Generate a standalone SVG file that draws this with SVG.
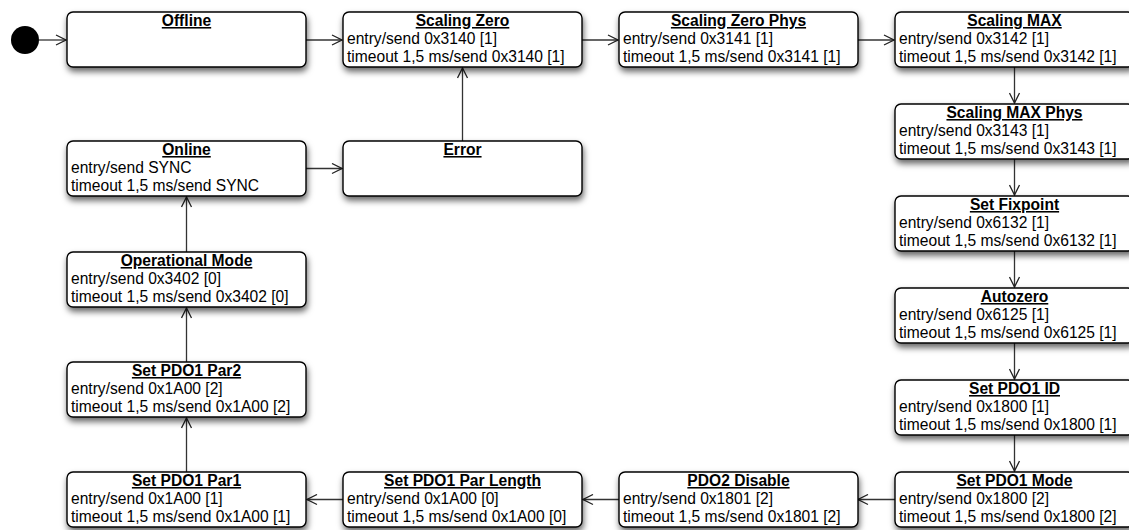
<svg xmlns="http://www.w3.org/2000/svg" width="1129" height="530" viewBox="0 0 1129 530">
<defs>
<filter id="sh" x="-10%" y="-20%" width="120%" height="170%">
<feDropShadow dx="1" dy="4" stdDeviation="3" flood-color="#000" flood-opacity="0.6"/>
</filter>
<marker id="ar" markerWidth="12" markerHeight="12" refX="11" refY="6" orient="auto" markerUnits="userSpaceOnUse">
<path d="M1,1 L11,6 L1,11" fill="none" stroke="#222" stroke-width="1.3"/>
</marker>
</defs>
<style>
.box{fill:#fff;stroke:#000;stroke-width:1.4;filter:url(#sh)}
.t{font-family:"Liberation Sans",Arial,Helvetica,sans-serif;font-size:15.6px;fill:#000}
.h{font-weight:bold;text-anchor:middle;text-decoration:underline}
.c{fill:none;stroke:#333;stroke-width:1.3;marker-end:url(#ar)}
</style>
<rect width="1129" height="530" fill="#fff"/>
<g id="connectors">
<line class="c" x1="39" y1="40" x2="66" y2="40"/>
<line class="c" x1="306" y1="40" x2="342" y2="40"/>
<line class="c" x1="582" y1="40" x2="618" y2="40"/>
<line class="c" x1="857" y1="40" x2="894" y2="40"/>
<line class="c" x1="1014.5" y1="67" x2="1014.5" y2="103"/>
<line class="c" x1="1014.5" y1="159" x2="1014.5" y2="195"/>
<line class="c" x1="1014.5" y1="251" x2="1014.5" y2="287"/>
<line class="c" x1="1014.5" y1="343" x2="1014.5" y2="379"/>
<line class="c" x1="1014.5" y1="435" x2="1014.5" y2="471"/>
<line class="c" x1="895" y1="499.5" x2="858" y2="499.5"/>
<line class="c" x1="619" y1="499.5" x2="583" y2="499.5"/>
<line class="c" x1="343" y1="499.5" x2="307" y2="499.5"/>
<line class="c" x1="186.5" y1="472" x2="186.5" y2="418"/>
<line class="c" x1="186.5" y1="362" x2="186.5" y2="308"/>
<line class="c" x1="186.5" y1="252" x2="186.5" y2="197"/>
<line class="c" x1="306" y1="168.5" x2="342" y2="168.5"/>
<line class="c" x1="462.5" y1="141" x2="462.5" y2="68"/>
</g>
<g id="initial"><circle cx="25" cy="40" r="14" fill="#000"/></g>
<g id="offline"><rect class="box" x="67" y="12" width="239" height="55" rx="6"/><text class="t h" x="186.5" y="26">Offline</text></g>
<g id="scaling-zero"><rect class="box" x="343" y="12" width="239" height="55" rx="6"/><text class="t h" x="462.5" y="26">Scaling Zero</text><text class="t" x="347" y="44">entry/send 0x3140 [1]</text><text class="t" x="347" y="62">timeout 1,5 ms/send 0x3140 [1]</text></g>
<g id="scaling-zero-phys"><rect class="box" x="619" y="12" width="239" height="55" rx="6"/><text class="t h" x="738.5" y="26">Scaling Zero Phys</text><text class="t" x="623" y="44">entry/send 0x3141 [1]</text><text class="t" x="623" y="62">timeout 1,5 ms/send 0x3141 [1]</text></g>
<g id="scaling-max"><rect class="box" x="895" y="12" width="239" height="55" rx="6"/><text class="t h" x="1014.5" y="26">Scaling MAX</text><text class="t" x="899" y="44">entry/send 0x3142 [1]</text><text class="t" x="899" y="62">timeout 1,5 ms/send 0x3142 [1]</text></g>
<g id="scaling-max-phys"><rect class="box" x="895" y="104" width="239" height="55" rx="6"/><text class="t h" x="1014.5" y="118">Scaling MAX Phys</text><text class="t" x="899" y="136">entry/send 0x3143 [1]</text><text class="t" x="899" y="154">timeout 1,5 ms/send 0x3143 [1]</text></g>
<g id="set-fixpoint"><rect class="box" x="895" y="196" width="239" height="55" rx="6"/><text class="t h" x="1014.5" y="210">Set Fixpoint</text><text class="t" x="899" y="228">entry/send 0x6132 [1]</text><text class="t" x="899" y="246">timeout 1,5 ms/send 0x6132 [1]</text></g>
<g id="autozero"><rect class="box" x="895" y="288" width="239" height="55" rx="6"/><text class="t h" x="1014.5" y="302">Autozero</text><text class="t" x="899" y="320">entry/send 0x6125 [1]</text><text class="t" x="899" y="338">timeout 1,5 ms/send 0x6125 [1]</text></g>
<g id="set-pdo1-id"><rect class="box" x="895" y="380" width="239" height="55" rx="6"/><text class="t h" x="1014.5" y="394">Set PDO1 ID</text><text class="t" x="899" y="412">entry/send 0x1800 [1]</text><text class="t" x="899" y="430">timeout 1,5 ms/send 0x1800 [1]</text></g>
<g id="set-pdo1-mode"><rect class="box" x="895" y="472" width="239" height="55" rx="6"/><text class="t h" x="1014.5" y="486">Set PDO1 Mode</text><text class="t" x="899" y="504">entry/send 0x1800 [2]</text><text class="t" x="899" y="522">timeout 1,5 ms/send 0x1800 [2]</text></g>
<g id="pdo2-disable"><rect class="box" x="619" y="472" width="239" height="55" rx="6"/><text class="t h" x="738.5" y="486">PDO2 Disable</text><text class="t" x="623" y="504">entry/send 0x1801 [2]</text><text class="t" x="623" y="522">timeout 1,5 ms/send 0x1801 [2]</text></g>
<g id="set-pdo1-par-length"><rect class="box" x="343" y="472" width="239" height="55" rx="6"/><text class="t h" x="462.5" y="486">Set PDO1 Par Length</text><text class="t" x="347" y="504">entry/send 0x1A00 [0]</text><text class="t" x="347" y="522">timeout 1,5 ms/send 0x1A00 [0]</text></g>
<g id="set-pdo1-par1"><rect class="box" x="67" y="472" width="239" height="55" rx="6"/><text class="t h" x="186.5" y="486">Set PDO1 Par1</text><text class="t" x="71" y="504">entry/send 0x1A00 [1]</text><text class="t" x="71" y="522">timeout 1,5 ms/send 0x1A00 [1]</text></g>
<g id="set-pdo1-par2"><rect class="box" x="67" y="362" width="239" height="55" rx="6"/><text class="t h" x="186.5" y="376">Set PDO1 Par2</text><text class="t" x="71" y="394">entry/send 0x1A00 [2]</text><text class="t" x="71" y="412">timeout 1,5 ms/send 0x1A00 [2]</text></g>
<g id="operational-mode"><rect class="box" x="67" y="252" width="239" height="55" rx="6"/><text class="t h" x="186.5" y="266">Operational Mode</text><text class="t" x="71" y="284">entry/send 0x3402 [0]</text><text class="t" x="71" y="302">timeout 1,5 ms/send 0x3402 [0]</text></g>
<g id="online"><rect class="box" x="67" y="141" width="239" height="55" rx="6"/><text class="t h" x="186.5" y="155">Online</text><text class="t" x="71" y="173">entry/send SYNC</text><text class="t" x="71" y="191">timeout 1,5 ms/send SYNC</text></g>
<g id="error"><rect class="box" x="343" y="141" width="239" height="55" rx="6"/><text class="t h" x="462.5" y="155">Error</text></g>
</svg>
